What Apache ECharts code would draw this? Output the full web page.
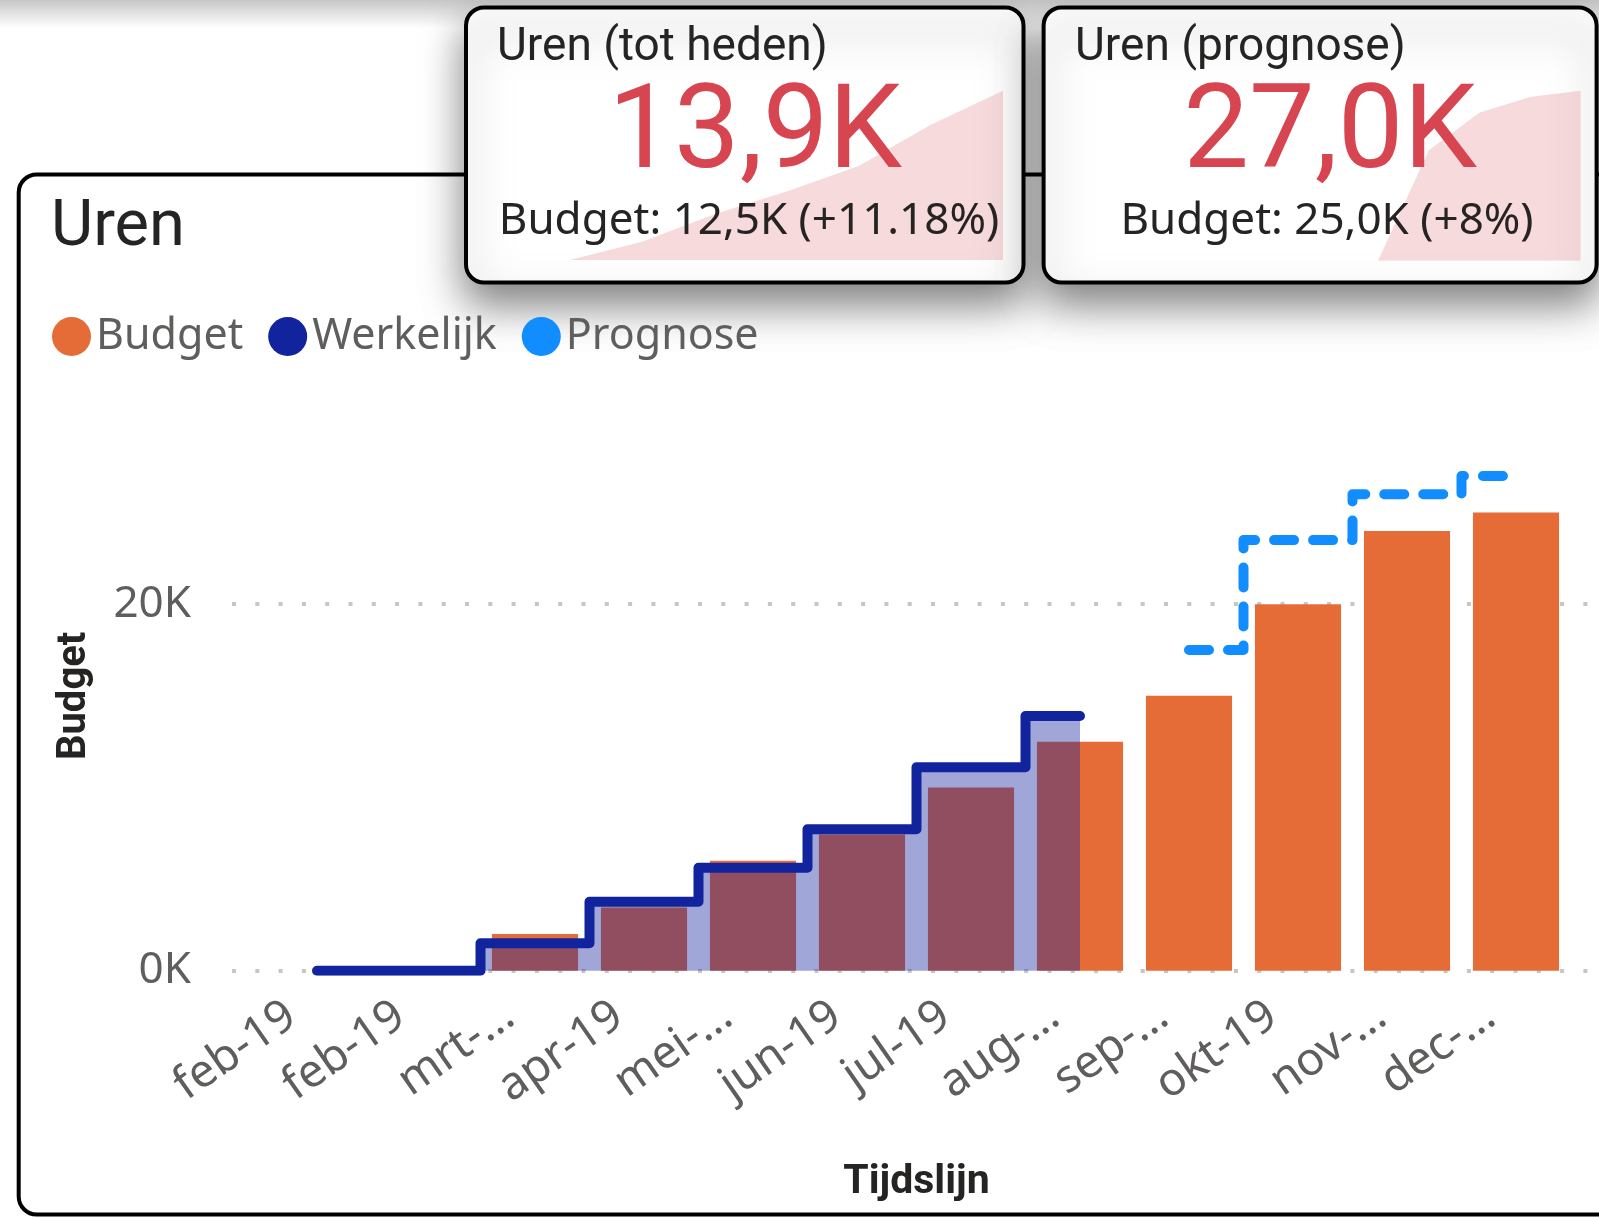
<!DOCTYPE html>
<html>
<head>
<meta charset="utf-8">
<title>Uren</title>
<script src="https://cdn.jsdelivr.net/npm/echarts@6/dist/echarts.min.js"></script>
<style>
  html, body { margin: 0; padding: 0; background: #fff; }
  #main { width: 1599px; height: 1219px; }
</style>
</head>
<body>
<div id="main"></div>
<script>
    // waarden in duizenden uren (K)
    var maanden = ['feb-19', 'feb-19', 'mrt-…', 'apr-19', 'mei-…', 'jun-19', 'jul-19', 'aug-…', 'sep-…', 'okt-19', 'nov-…', 'dec-…'];
    var budget = [0, 0, 2.0, 3.45, 6.0, 7.43, 10.0, 12.5, 15.0, 20.0, 24.0, 25.0];
    var werkelijk = [0, 0, 1.5, 3.76, 5.62, 7.72, 11.1, 13.9, null, null, null, null];
    var prognose = [null, null, null, null, null, null, null, null, 17.5, 23.5, 26.0, 27.0];
    var kpiPct = [11.18, 8];

    // sparklines in de kaarten
    var sparkTotHeden = werkelijk.slice(1, 8);
    var sparkPrognose = [0].concat(prognose.slice(8));

    function fmtK(v) {
        return v.toFixed(1).replace('.', ',') + 'K';
    }

    var C_BUDGET = '#E66C37',
        C_WERKELIJK = '#12239E',
        C_PROGNOSE = '#118DFF',
        C_KPI = '#D64550',
        C_TEXT = '#252423',
        C_LABEL = '#605E5C';

    var DIN = 'Roboto, "DejaVu Sans", sans-serif',
        SEGOE = '"Noto Sans", "Open Sans", sans-serif';

    function txt(x, y, text, size, color, align, family, weight) {
        return {
            type: 'text', x: x, y: y, z: 100, silent: true,
            style: {
                text: text, fill: color, fontSize: size, fontFamily: family,
                fontWeight: weight || 'normal', align: align, verticalAlign: 'middle'
            }
        };
    }

    function card(x, y, w, h, shadow) {
        var st = { fill: '#fff', stroke: '#000', lineWidth: 4 };
        if (shadow) {
            st.shadowBlur = 42;
            st.shadowColor = 'rgba(0,0,0,0.5)';
            st.shadowOffsetY = 20;
        }
        return { type: 'rect', z: -10, silent: true, shape: { x: x, y: y, width: w, height: h, r: 18 }, style: st };
    }

    var chart = echarts.init(document.getElementById('main'));

    var option = {
        animation: false,
        textStyle: { fontFamily: SEGOE },
        graphic: [
            {
                type: 'rect', z: -20, silent: true,
                shape: { x: 0, y: 0, width: 1599, height: 28 },
                style: {
                    fill: {
                        type: 'linear', x: 0, y: 0, x2: 0, y2: 1,
                        colorStops: [{ offset: 0, color: 'rgba(0,0,0,0.22)' }, { offset: 1, color: 'rgba(0,0,0,0)' }]
                    }
                }
            },
            card(18.7, 174.5, 1700, 1040, false),
            card(466, 7.5, 557.5, 275, true),
            card(1043.6, 7.5, 553, 275, true),

            txt(51, 229, 'Uren', 65, C_TEXT, 'left', DIN, 'normal'),

            txt(497, 48, 'Uren (tot heden)', 46, C_TEXT, 'left', DIN, 'normal'),
            txt(755, 138, fmtK(werkelijk[7]), 117, C_KPI, 'center', DIN, 'normal'),
            txt(749, 221, 'Budget: ' + fmtK(budget[7]) + ' (+' + kpiPct[0] + '%)', 44, C_TEXT, 'center', SEGOE),

            txt(1075, 48, 'Uren (prognose)', 46, C_TEXT, 'left', DIN, 'normal'),
            txt(1330, 138, fmtK(prognose[11]), 117, C_KPI, 'center', DIN, 'normal'),
            txt(1327, 221, 'Budget: ' + fmtK(budget[11]) + ' (+' + kpiPct[1] + '%)', 44, C_TEXT, 'center', SEGOE)
        ],
        legend: {
            data: ['Budget', 'Werkelijk', 'Prognose'],
            left: 52,
            top: 315,
            padding: 0,
            icon: 'circle',
            itemWidth: 39,
            itemHeight: 39,
            itemGap: 25,
            itemStyle: { borderWidth: 0 },
            textStyle: { fontSize: 43, color: C_LABEL, fontFamily: SEGOE }
        },
        grid: [
            // rasterlijnen (breder dan de categorie-as)
            { left: 232, right: 11, top: 421, bottom: 248.3 },
            // data
            { left: 262.5, right: 28.5, top: 421, bottom: 248.3 },
            // sparkline tot heden
            { left: 570, right: 596, top: 90.7, bottom: 959 },
            // sparkline prognose
            { left: 1378, right: 18.5, top: 90.7, bottom: 958.3 }
        ],
        xAxis: [
            { type: 'value', gridIndex: 0, show: false },
            {
                type: 'category', gridIndex: 1, data: maanden,
                axisLine: { show: false }, axisTick: { show: false },
                axisLabel: {
                    interval: 0, rotate: 35, margin: 23, padding: [0, 31, 0, 0],
                    fontSize: 46, color: C_LABEL, fontFamily: SEGOE
                },
                name: 'Tijdslijn', nameLocation: 'middle', nameGap: 192,
                nameTextStyle: { fontSize: 41, fontWeight: 'bold', color: C_TEXT, fontFamily: DIN }
            },
            { type: 'category', gridIndex: 2, show: false, boundaryGap: false, data: sparkTotHeden.map(function (v, i) { return i; }) },
            { type: 'category', gridIndex: 3, show: false, boundaryGap: false, data: sparkPrognose.map(function (v, i) { return i; }) }
        ],
        yAxis: [
            {
                type: 'value', gridIndex: 0, min: 0, max: 30, interval: 20,
                axisLine: { show: false }, axisTick: { show: false },
                axisLabel: {
                    margin: 41, fontSize: 44, color: C_LABEL, fontFamily: SEGOE, showMaxLabel: false,
                    formatter: function (v) { return v + 'K'; }
                },
                splitLine: { show: true, showMaxLine: false, lineStyle: { color: '#C8C6C4', width: 4, type: [4, 19.3] } }
            },
            {
                type: 'value', gridIndex: 1, min: 0, max: 30, interval: 20,
                axisLine: { show: false }, axisTick: { show: false },
                axisLabel: { show: false }, splitLine: { show: false },
                name: 'Budget', nameLocation: 'middle', nameRotate: 90, nameGap: 168,
                nameTextStyle: { fontSize: 40, fontWeight: 'bold', color: C_TEXT, fontFamily: DIN }
            },
            { type: 'value', gridIndex: 2, show: false, min: 0, max: 'dataMax' },
            { type: 'value', gridIndex: 3, show: false, min: 0, max: 'dataMax' }
        ],
        series: [
            {
                name: 'Budget', type: 'bar', xAxisIndex: 1, yAxisIndex: 1,
                data: budget, barCategoryGap: '21%', color: C_BUDGET,
                itemStyle: { color: C_BUDGET }
            },
            {
                name: 'Werkelijk', type: 'line', xAxisIndex: 1, yAxisIndex: 1,
                data: werkelijk, step: 'middle', connectNulls: true, showSymbol: false, symbol: 'none', color: C_WERKELIJK,
                lineStyle: { color: C_WERKELIJK, width: 10, cap: 'round', join: 'round' },
                areaStyle: { color: C_WERKELIJK, opacity: 0.4 }
            },
            {
                name: 'Prognose', type: 'line', xAxisIndex: 1, yAxisIndex: 1,
                data: prognose, step: 'middle', connectNulls: true, showSymbol: false, symbol: 'none', color: C_PROGNOSE,
                lineStyle: { color: C_PROGNOSE, width: 10, type: [20, 19], cap: 'round', join: 'round' }
            },
            {
                name: 'spark1', type: 'line', xAxisIndex: 2, yAxisIndex: 2, silent: true,
                data: sparkTotHeden, showSymbol: false, symbol: 'none',
                lineStyle: { width: 0 }, areaStyle: { color: C_KPI, opacity: 0.2 }
            },
            {
                name: 'spark2', type: 'line', xAxisIndex: 3, yAxisIndex: 3, silent: true,
                data: sparkPrognose, showSymbol: false, symbol: 'none',
                lineStyle: { width: 0 }, areaStyle: { color: C_KPI, opacity: 0.2 }
            }
        ]
    };
    chart.setOption(option);
</script>
</body>
</html>
